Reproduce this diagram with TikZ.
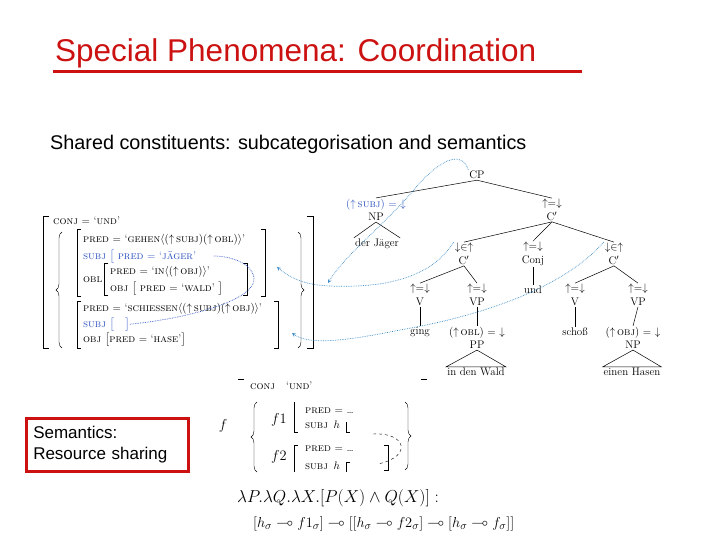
\documentclass[tikz,border=0pt]{standalone}
\usepackage{amsmath}
\usepackage{amssymb}
\usepackage{fontspec}
\newfontfamily\slidefont{Liberation Sans}
\usetikzlibrary{positioning,decorations.pathreplacing}
\definecolor{SlideRed}{HTML}{CC1111}
\definecolor{LinkBlue}{HTML}{3C8CC8}
\definecolor{AnnBlue}{HTML}{2A4FC0}
\newcommand{\upar}{\ensuremath{\uparrow}}
\newcommand{\dnar}{\ensuremath{\downarrow}}

\begin{document}
\begin{tikzpicture}[x=1pt,y=-1pt,>=stealth]
  \tikzstyle{cat}=[inner sep=1pt,align=center,
    font=\fontsize{11}{13.5}\selectfont]
  \tikzstyle{leaf}=[inner sep=1pt,font=\fontsize{11}{13.5}\selectfont]
  \tikzstyle{tree}=[line width=0.5pt]
  \tikzstyle{frow}=[anchor=base west,inner sep=0pt,
    font=\fontsize{11}{12}\selectfont]
  \tikzstyle{link}=[draw=LinkBlue,densely dotted,line width=0.7pt]
  \useasboundingbox (0,0) rectangle (720,540);

  % heading
  \node[anchor=base west,inner sep=0pt,text=SlideRed,
    font=\slidefont\fontsize{31.5}{36}\selectfont] (title) at (55,62)
    {Special Phenomena: Coordination};
  \draw[SlideRed,line width=3pt] (53,72) -- (582,72);
  \node[anchor=base west,inner sep=0pt,
    font=\slidefont\fontsize{19.8}{24}\selectfont] (shared) at (50,150)
    {Shared constituents: subcategorisation and semantics};

  % c-structure
  \node[cat] (cp) at (477,175) {CP};
  \node[cat] (np) at (376,210)
    {\textcolor{AnnBlue}{(\upar\,\textsc{subj}) = \dnar}\\NP};
  \node[cat] (cbar) at (552,210) {$\uparrow=\downarrow$\\C$'$};
  \node[leaf] (jaeger) at (377,244) {der Jäger};
  \node[cat] (cleft) at (464,254) {$\downarrow\in\uparrow$\\C$'$};
  \node[cat] (conj) at (533,254) {$\uparrow=\downarrow$\\Conj};
  \node[cat] (cright) at (614,254) {$\downarrow\in\uparrow$\\C$'$};
  \node[leaf] (und) at (533,290) {und};
  \node[cat] (vone) at (420,295) {$\uparrow=\downarrow$\\V};
  \node[cat] (vpone) at (477,295) {$\uparrow=\downarrow$\\VP};
  \node[cat] (vtwo) at (575,295) {$\uparrow=\downarrow$\\V};
  \node[cat] (vptwo) at (638,295) {$\uparrow=\downarrow$\\VP};
  \node[leaf] (ging) at (420,332) {ging};
  \node[cat] (pp) at (477,338) {(\upar\,\textsc{obl}) = \dnar\\PP};
  \node[leaf] (schoss) at (575,332) {schoß};
  \node[cat] (nptwo) at (633,338) {(\upar\,\textsc{obj}) = \dnar\\NP};
  \node[leaf] (wald) at (476,372) {in den Wald};
  \node[leaf] (hasen) at (632,372) {einen Hasen};

  \draw[tree] (cp.south) -- (np.north);
  \draw[tree] (cp.south) -- (cbar.north);
  \draw[tree] (np.south) -- (jaeger.north west);
  \draw[tree] (np.south) -- (jaeger.north east);
  \draw[tree] (cbar.south) -- (cleft.north);
  \draw[tree] (cbar.south) -- (conj.north);
  \draw[tree] (cbar.south) -- (cright.north);
  \draw[tree] (conj.south) -- (und.north);
  \draw[tree] (cleft.south) -- (vone.north);
  \draw[tree] (cleft.south) -- (vpone.north);
  \draw[tree] (cright.south) -- (vtwo.north);
  \draw[tree] (cright.south) -- (vptwo.north);
  \draw[tree] (vone.south) -- (ging.north);
  \draw[tree] (vpone.south) -- (pp.north);
  \draw[tree] (vtwo.south) -- (schoss.north);
  \draw[tree] (vptwo.south) -- (nptwo.north);
  \draw[tree] (pp.south) -- (wald.north west) -- (wald.north east) -- cycle;
  \draw[tree] (nptwo.south) -- (hasen.north west) -- (hasen.north east) -- cycle;

  % f-structure
  \draw (49,216) -- (43,216) -- (43,348) -- (49,348);
  \draw (307,216) -- (313,216) -- (313,348) -- (307,348);
  \draw[decorate,decoration={brace,amplitude=6pt}] (62,348) -- (62,232);
  \draw[decorate,decoration={brace,amplitude=6pt}] (298,232) -- (298,348);
  \draw (81,229) -- (77,229) -- (77,296) -- (81,296);
  \draw (261,229) -- (265,229) -- (265,296) -- (261,296);
  \draw (81,301) -- (77,301) -- (77,348) -- (81,348);
  \draw (274,301) -- (278,301) -- (278,348) -- (274,348);
  \draw (108,263) -- (104,263) -- (104,295) -- (108,295);
  \draw (243,263) -- (247,263) -- (247,295) -- (243,295);
  \node[frow] (conjrow) at (53,225) {\textsc{conj} = `\textsc{und}'};
  \node[frow] (gehen) at (83,242)
    {\textsc{pred} = `\textsc{gehen}$\langle$(\upar\,\textsc{subj})(\upar\,\textsc{obl})$\rangle$'};
  \node[frow,text=AnnBlue] (subjone) at (83,259)
    {\textsc{subj} $\big[$ \textsc{pred} = `\textsc{jäger}'};
  \node[frow] (obl) at (83,282) {\textsc{obl}};
  \node[frow] (inrow) at (110,274)
    {\textsc{pred} = `\textsc{in}$\langle$(\upar\,\textsc{obj})$\rangle$'};
  \node[frow] (waldrow) at (110,291)
    {\textsc{obj} $\big[$ \textsc{pred} = `\textsc{wald}' $\big]$};
  \node[frow] (schiessen) at (83,311)
    {\textsc{pred} = `\textsc{schiessen}$\langle$(\upar\,\textsc{subj})(\upar\,\textsc{obj})$\rangle$'};
  \node[frow,text=AnnBlue] (subjtwo) at (83,327) {\textsc{subj} $\big[$\quad$\big]$};
  \node[frow] (hase) at (83,342)
    {\textsc{obj} $\big[$\textsc{pred} = `\textsc{hase}'$\big]$};
  \coordinate (share) at (214,256);
  \coordinate (fsall) at (328,283);
  \coordinate (fsone) at (277,267);
  \coordinate (fstwo) at (292,333);

  \draw[link,AnnBlue] (subjtwo.east) .. controls (190,318) and (256,300) .. (254,278)
    .. controls (252,262) and (228,256) .. (share);
  \draw[link,->] (cp.north west) .. controls (462,150) and (440,158) .. (412,192)
    .. controls (385,224) and (345,255) .. (fsall);
  \draw[link,->] (cleft.north west) .. controls (430,280) and (380,288) .. (330,286)
    .. controls (305,285) and (290,278) .. (fsone);
  \draw[link,->] (cright.north west) .. controls (560,292) and (470,318) .. (400,330)
    .. controls (350,340) and (310,346) .. (fstwo);

  % semantics
  \node[draw=SlideRed,line width=2.5pt,anchor=north west,inner xsep=7pt,
    text width=148pt,minimum height=53pt,align=left,
    font=\slidefont\fontsize{17}{21}\selectfont] (sem) at (25,417)
    {Semantics:\\Resource sharing};
  \draw (238,379) -- (244,379);
  \draw (421,379) -- (427,379);
  \node[frow] (conjtwo) at (250,389) {\textsc{conj}\quad`\textsc{und}'};
  \node[inner sep=0pt,font=\fontsize{14}{16}\selectfont] (f) at (223,426) {$f$};
  \draw[decorate,decoration={brace,amplitude=6pt}] (257,472) -- (257,402);
  \draw[decorate,decoration={brace,amplitude=6pt}] (405,402) -- (405,470);
  \node[inner sep=0pt,font=\fontsize{14}{16}\selectfont] (fone) at (279,420) {$f1$};
  \node[inner sep=0pt,font=\fontsize{14}{16}\selectfont] (ftwo) at (279,457) {$f2$};
  \draw (294,402) -- (294,432) -- (298,432);
  \draw (298,445) -- (294,445) -- (294,472);
  \draw (384,445) -- (388,445) -- (388,470) -- (384,470);
  \draw (346,422) -- (346,432) -- (350,432);
  \draw (350,462) -- (346,462) -- (346,472);
  \node[frow] (predone) at (305,413) {\textsc{pred} = \dots};
  \node[frow] (hone) at (305,428) {\textsc{subj}\enspace$h$};
  \node[frow] (predtwo) at (305,451) {\textsc{pred} = \dots};
  \node[frow] (htwo) at (305,469) {\textsc{subj}\enspace$h$};
  \coordinate (hshare) at (373,434);
  \coordinate (hsub) at (378,464);
  \draw[dashed,line width=0.4pt] (hshare) .. controls (405,432) and (414,456) .. (hsub);

  \node[frow,font=\fontsize{16}{19}\selectfont] (lam) at (237,502)
    {$\lambda P.\lambda Q.\lambda X.[P(X)\wedge Q(X)]:$};
  \node[frow,font=\fontsize{15.2}{19}\selectfont] (glue) at (253,527)
    {$[h_\sigma\multimap f1_\sigma]\multimap[[h_\sigma\multimap f2_\sigma]\multimap[h_\sigma\multimap f_\sigma]]$};
\end{tikzpicture}
\end{document}
